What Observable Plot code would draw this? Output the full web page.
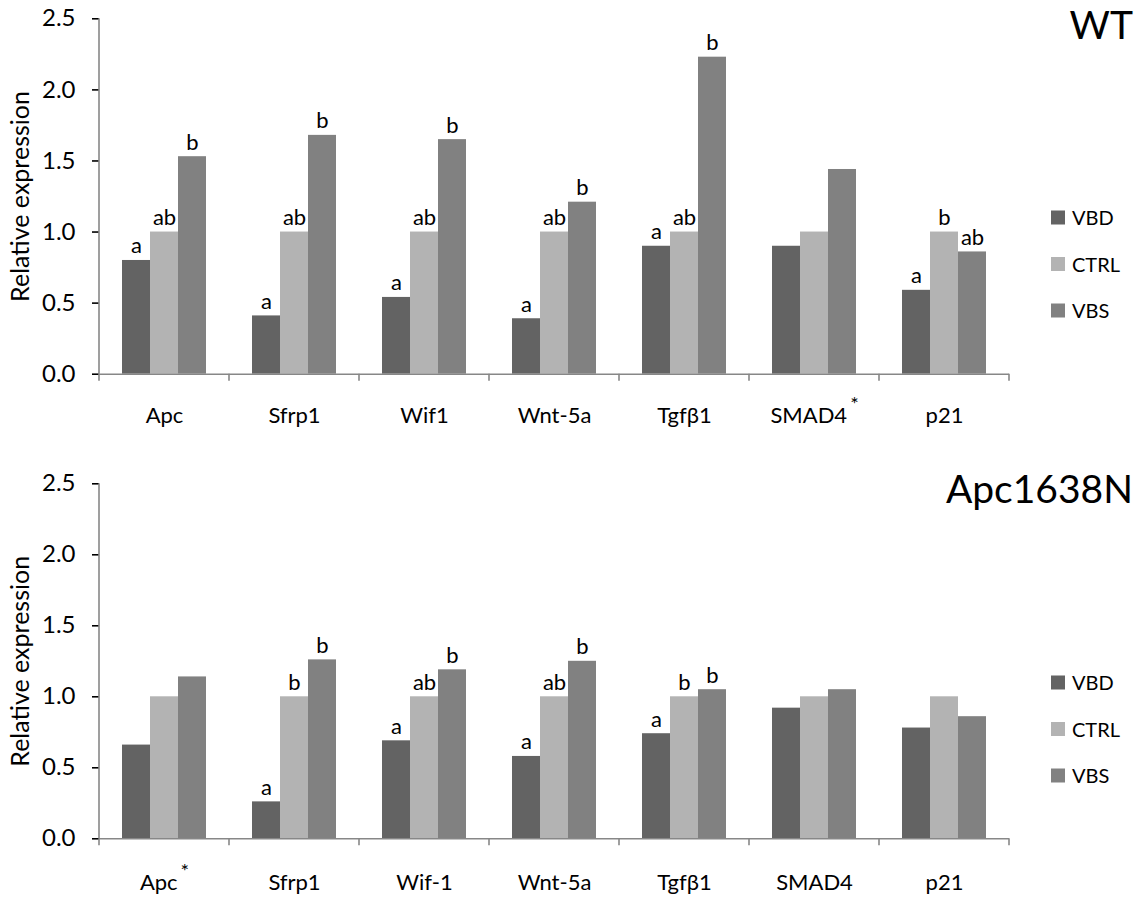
<!DOCTYPE html>
<html>
<head>
<meta charset="utf-8">
<script src="https://cdn.jsdelivr.net/npm/d3@7"></script>
<script src="https://cdn.jsdelivr.net/npm/@observablehq/plot@0.6"></script>
<style>
  html, body { margin: 0; padding: 0; background: #fff; }
  #figure { position: relative; width: 1147px; height: 897px; overflow: hidden; font-family: Lato, "Noto Sans", sans-serif; }
  #figure svg { position: absolute; left: 0; overflow: visible; }
</style>
</head>
<body>
<div id="figure"></div>
<script>
// Treatment groups and their bar colours
const groups = ["VBD", "CTRL", "VBS"];
const groupColors = ["#636363", "#b3b3b3", "#818181"];
const yTicks = [0, 0.5, 1.0, 1.5, 2.0, 2.5];

// Wild-type mice
const wtGenes = ["Apc", "Sfrp1", "Wif1", "Wnt-5a", "Tgfβ1", "SMAD4*", "p21"];
const wtVBD  = [0.80, 0.41, 0.54, 0.39, 0.90, 0.90, 0.59];
const wtCTRL = [1.00, 1.00, 1.00, 1.00, 1.00, 1.00, 1.00];
const wtVBS  = [1.53, 1.68, 1.65, 1.21, 2.23, 1.44, 0.86];
const wtLetVBD  = ["a", "a", "a", "a", "a", "", "a"];
const wtLetCTRL = ["ab", "ab", "ab", "ab", "ab", "", "b"];
const wtLetVBS  = ["b", "b", "b", "b", "b", "", "ab"];

// Apc1638N mice
const apcGenes = ["Apc*", "Sfrp1", "Wif-1", "Wnt-5a", "Tgfβ1", "SMAD4", "p21"];
const apcVBD  = [0.66, 0.26, 0.69, 0.58, 0.74, 0.92, 0.78];
const apcCTRL = [1.00, 1.00, 1.00, 1.00, 1.00, 1.00, 1.00];
const apcVBS  = [1.14, 1.26, 1.19, 1.25, 1.05, 1.05, 0.86];
const apcLetVBD  = ["", "a", "a", "a", "a", "", ""];
const apcLetCTRL = ["", "b", "ab", "ab", "b", "", ""];
const apcLetVBS  = ["", "b", "b", "b", "b", "", ""];

const axisGray = "#878787";
const fig = document.getElementById("figure");

function panel({genes, vbd, ctrl, vbs, lv, lc, ls, title, top, height, marginTop, marginBottom, labelPad, legendY}) {
  const series = [vbd, ctrl, vbs];
  const letters = [lv, lc, ls];
  const rows = genes.flatMap((gene, i) =>
    groups.map((group, j) => ({gene, group, value: series[j][i], letter: letters[j][i]})));

  const plot = Plot.plot({
    width: 1147,
    height,
    marginLeft: 99,
    marginRight: 138,
    marginTop,
    marginBottom,
    style: {fontFamily: "Lato, 'Noto Sans', sans-serif", fontSize: "22px", color: "#000", background: "transparent", overflow: "visible"},
    fx: {domain: genes, padding: 0},
    x: {domain: groups, paddingInner: 0, paddingOuter: 0.78, axis: null},
    y: {domain: [0, 2.5]},
    color: {domain: groups, range: groupColors},
    marks: [
      Plot.axisFx({anchor: "bottom", tickSize: 0, tickPadding: labelPad, label: null, fontSize: 22}),
      Plot.axisY({anchor: "left", ticks: yTicks, tickFormat: d3.format(".1f"), tickSize: 7, tickPadding: 17, fontSize: 24,
                  label: "Relative expression", labelAnchor: "center", labelArrow: "none", labelOffset: 88}),
      Plot.barY(rows, {fx: "gene", x: "group", y: "value", fill: "group"}),
      Plot.ruleY([0], {stroke: axisGray, strokeWidth: 1.6}),
      Plot.text(rows, {fx: "gene", x: "group", y: "value", text: "letter", lineAnchor: "bottom", dy: -7, fontSize: 22, fill: "#000"})
    ]
  });
  plot.style.top = top + "px";
  fig.appendChild(plot);

  const svg = d3.select(plot);
  const fx = plot.scale("fx");
  const y = plot.scale("y");
  const y0 = y.apply(0), y1 = y.apply(2.5);

  // grey tick marks on the value axis; larger axis title
  svg.selectAll('[aria-label="y-axis tick"]').attr("stroke", axisGray).attr("stroke-width", 1.6);
  svg.selectAll('[aria-label="y-axis label"], [aria-label="y-axis label"] text').attr("font-size", 25);

  // value axis line
  const x0 = fx.apply(genes[0]);
  svg.append("line").attr("x1", x0).attr("x2", x0).attr("y1", y1).attr("y2", y0)
    .attr("stroke", axisGray).attr("stroke-width", 1.6);

  // category boundary ticks below the baseline
  const edges = genes.map(g => fx.apply(g)).concat([fx.apply(genes[genes.length - 1]) + fx.bandwidth]);
  svg.append("g").selectAll("line").data(edges).join("line")
    .attr("x1", d => d).attr("x2", d => d).attr("y1", y0).attr("y2", y0 + 7)
    .attr("stroke", axisGray).attr("stroke-width", 1.6);

  // raised asterisk on starred gene names
  svg.selectAll('[aria-label="fx-axis tick label"] text').each(function () {
    const t = this.textContent;
    if (t.endsWith("*")) {
      const el = d3.select(this);
      el.text(t.slice(0, -1));
      el.append("tspan").attr("dx", 3).attr("dy", "-0.6em").attr("font-size", 20).text("*");
    }
  });

  // panel title
  svg.append("text").attr("x", 1133).attr("y", title.y).attr("text-anchor", "end")
    .attr("font-size", 39).attr("fill", "#000").text(title.text);

  // legend
  const leg = svg.append("g").attr("font-size", 20).attr("fill", "#000").attr("text-anchor", "start");
  groups.forEach((g, i) => {
    const cy = legendY + i * 46.5;
    leg.append("rect").attr("x", 1051).attr("y", cy - 7).attr("width", 14).attr("height", 14).attr("fill", groupColors[i]);
    leg.append("text").attr("x", 1072).attr("y", cy + 7.5).text(g);
  });
}

panel({genes: wtGenes, vbd: wtVBD, ctrl: wtCTRL, vbs: wtVBS, lv: wtLetVBD, lc: wtLetCTRL, ls: wtLetVBS,
       title: {text: "WT", y: 39}, top: 0, height: 450, marginTop: 18.3, marginBottom: 76.3, labelPad: 33, legendY: 217.5});
panel({genes: apcGenes, vbd: apcVBD, ctrl: apcCTRL, vbs: apcVBS, lv: apcLetVBD, lc: apcLetCTRL, ls: apcLetVBS,
       title: {text: "Apc1638N", y: 53}, top: 450, height: 447, marginTop: 33.3, marginBottom: 58.7, labelPad: 36, legendY: 232.5});
</script>
</body>
</html>
